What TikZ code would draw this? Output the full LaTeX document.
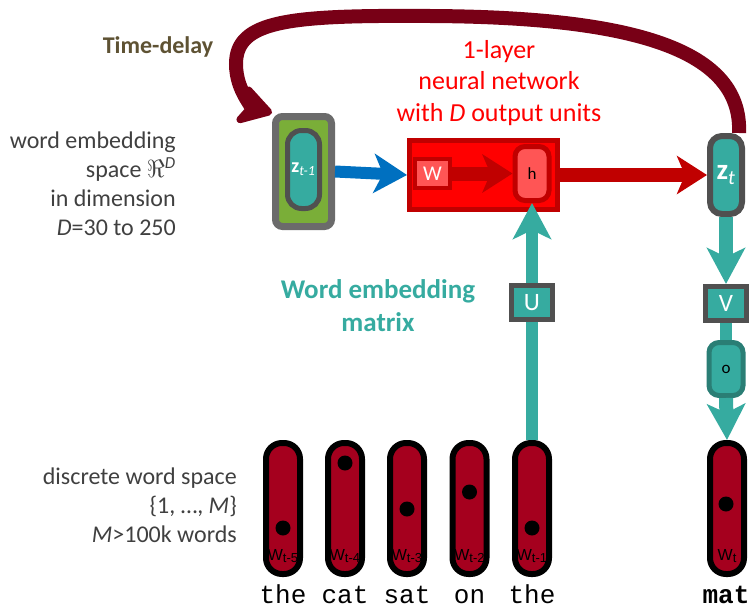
\documentclass[tikz,border=0pt]{standalone}
\usepackage{fontspec}
\setmainfont{Carlito}
\setmonofont{Liberation Mono}
\newfontfamily\labfont{Liberation Sans}
\usetikzlibrary{arrows.meta,
	calc,
	positioning}
\definecolor{tealc}{HTML}{36ABA0}
\definecolor{tealdark}{HTML}{2A7E75}
\definecolor{delayred}{HTML}{780016}
\definecolor{wordred}{HTML}{A5001E}
\definecolor{netred}{HTML}{FF0000}
\definecolor{netdark}{HTML}{C00000}
\definecolor{hred}{HTML}{FF5555}
\definecolor{bluec}{HTML}{0070C0}
\definecolor{grayb}{HTML}{505050}
\definecolor{grayo}{HTML}{6B6B6B}
\definecolor{greenc}{HTML}{7AAE38}
\definecolor{olivec}{HTML}{5E5233}
\definecolor{textgray}{HTML}{404040}
\newcommand{\wsub}[1]{W{\fontsize{13}{13}\selectfont\raisebox{-1.5pt}{#1}}}
\tikzstyle{zouter}=[draw=grayo, fill=greenc, line width=7pt, rounded corners=7pt,
		minimum width=56pt, minimum height=110pt, inner sep=0]
\tikzstyle{zinner}=[draw=grayb, fill=tealc, line width=5pt, rounded corners=14pt,
		minimum width=32pt, minimum height=78pt, inner sep=0, text=white,
		font=\fontsize{20}{20}\selectfont]
\tikzstyle{netbox}=[draw=netdark, fill=netred, line width=5pt,
		minimum width=148pt, minimum height=69pt, inner sep=0]
\tikzstyle{wmat}=[draw=netdark, fill=hred, line width=4pt, minimum width=35pt,
		minimum height=29pt, inner sep=0, text=white, font=\fontsize{21}{21}\selectfont]
\tikzstyle{hunit}=[draw=netdark, fill=hred, line width=5pt, rounded corners=10pt,
		minimum width=34pt, minimum height=54pt, inner sep=0, font=\fontsize{17}{17}\selectfont]
\tikzstyle{ztbox}=[draw=grayb, fill=tealc, line width=6pt, rounded corners=12pt,
		minimum width=32pt, minimum height=78pt, inner sep=0, text=white,
		font=\fontsize{29}{29}\selectfont]
\tikzstyle{matbox}=[draw=grayb, fill=tealc, line width=5pt, minimum width=41pt,
		minimum height=34pt, inner sep=0, text=white, font=\fontsize{25}{25}\selectfont]
\tikzstyle{obox}=[draw=tealdark, fill=tealc, line width=5pt, rounded corners=10pt,
		minimum width=34pt, minimum height=53pt, inner sep=0, font=\fontsize{17}{17}\selectfont]
\tikzstyle{wordbox}=[draw=black, fill=wordred, line width=6pt, rounded corners=16pt,
		minimum width=34pt, minimum height=131pt, inner sep=0]
\tikzstyle{wordlab}=[inner sep=0, font=\labfont\fontsize{16}{16}\selectfont]
\tikzstyle{wordtxt}=[inner sep=0, anchor=base, font=\ttfamily\fontsize{26}{26}\selectfont]
\tikzstyle{lefttext}=[inner sep=0, anchor=east, align=right, text=textgray,
		font=\fontsize{24}{29}\selectfont]
\tikzstyle{bluearr}=[bluec, line width=12pt, -{Stealth[length=33pt, width=39pt, inset=9pt]}]
\tikzstyle{redarr}=[netdark, line width=14pt, -{Stealth[length=30pt, width=38pt, inset=8pt]}]
\tikzstyle{tealarr}=[tealc, line width=12pt, -{Stealth[length=36pt, width=38pt, inset=9pt]}]
\tikzstyle{delayarr}=[delayred, line width=14pt,
		-{Stealth[length=40pt, width=48pt, inset=11pt, round]}]

\begin{document}
\begin{tikzpicture}[x=1pt, y=-1pt]
        \useasboundingbox (0,0) rectangle (752,610);
        % texts
        \node[text=olivec, inner sep=0, font=\bfseries\fontsize{24}{24}\selectfont] (delaylabel) at (158,47) {Time-delay};
        \node[text=netred, inner sep=0, align=center, font=\fontsize{26}{31.5}\selectfont] (netlabel) at (499,83)
            {1-layer\\neural network\\with \textit{D} output units};
        \node[lefttext] (embspace) at (176,184)
            {word embedding\\space $\Re$\textsuperscript{\textit{D}}\\in dimension\\\textit{D}=30 to 250};
        \node[lefttext] (discspace) at (237,505)
            {discrete word space\\\{1, \ldots, \textit{M}\}\\\textit{M}>100k words};
        \node[text=tealc, inner sep=0, align=center, font=\bfseries\fontsize{27}{33}\selectfont] (wemblabel) at (378,306)
            {Word embedding\\matrix};
        % boxes
        \node[zouter] (zprevout) at (303.5,171.5) {};
        \node[zinner] (zprev) at (303.5,169.5) {\textbf{z}\textsubscript{\textit{t-1}}};
        \node[netbox] (net) at (483.5,175) {};
        \node[wmat] (wbox) at (432.5,173.5) {W};
        \node[hunit] (hbox) at (532,173.5) {h};
        \node[ztbox] (zt) at (726,175) {\textbf{z}\textsubscript{\textit{t}}};
        \foreach \x/\d/\sub/\wrd [count=\i] in {283/528/t-5/the, 345/463/t-4/cat, 407/509/t-3/sat, 469.5/492/t-2/on, 532/528/t-1/the} {
            \node[wordbox] (word\i) at (\x,508.5) {};
            \fill (\x,\d) circle (7.5pt);
            \node[wordlab] (wlab\i) at ([yshift=21pt]word\i.south) {\wsub{\sub}};
            \node[wordtxt] (wtxt\i) at (\x,603) {\wrd};
        }
        \node[wordbox] (word6) at (727,508.5) {};
        \fill (726,504) circle (7.5pt);
        \node[wordlab] (wlab6) at ([yshift=21pt]word6.south) {\wsub{t}};
        \node[wordtxt] (wtxt6) at (726,603) {\textbf{mat}};
        % connectors
        \draw[delayarr] ([xshift=13pt]zt.north) .. controls (743,45) and (620,17) .. (430,16)
            .. controls (290,15) and (236,20) .. (236,64)
            .. controls (236,92) and (255,108) .. (zprevout.north west);
        \draw[bluearr] (zprevout.east) -- (net.west);
        \draw[redarr] (wbox.east) -- (hbox.west);
        \draw[redarr] (net.east) -- (zt.west);
        \draw[tealarr] (word5.north) -- (hbox.south);
        \node[matbox] (ubox) at (532,302.5) {U};
        \node[matbox] (vbox) at (726,303.5) {V};
        \draw[tealarr, line width=14pt] (zt.south) -- (vbox.north);
        \node[obox] (obox) at (726,369) {o};
        \draw[tealc, line width=12pt] (vbox.south) -- (obox.north);
        \draw[tealarr, line width=14pt] (obox.south) -- (word6.north);
\end{tikzpicture}
\end{document}
